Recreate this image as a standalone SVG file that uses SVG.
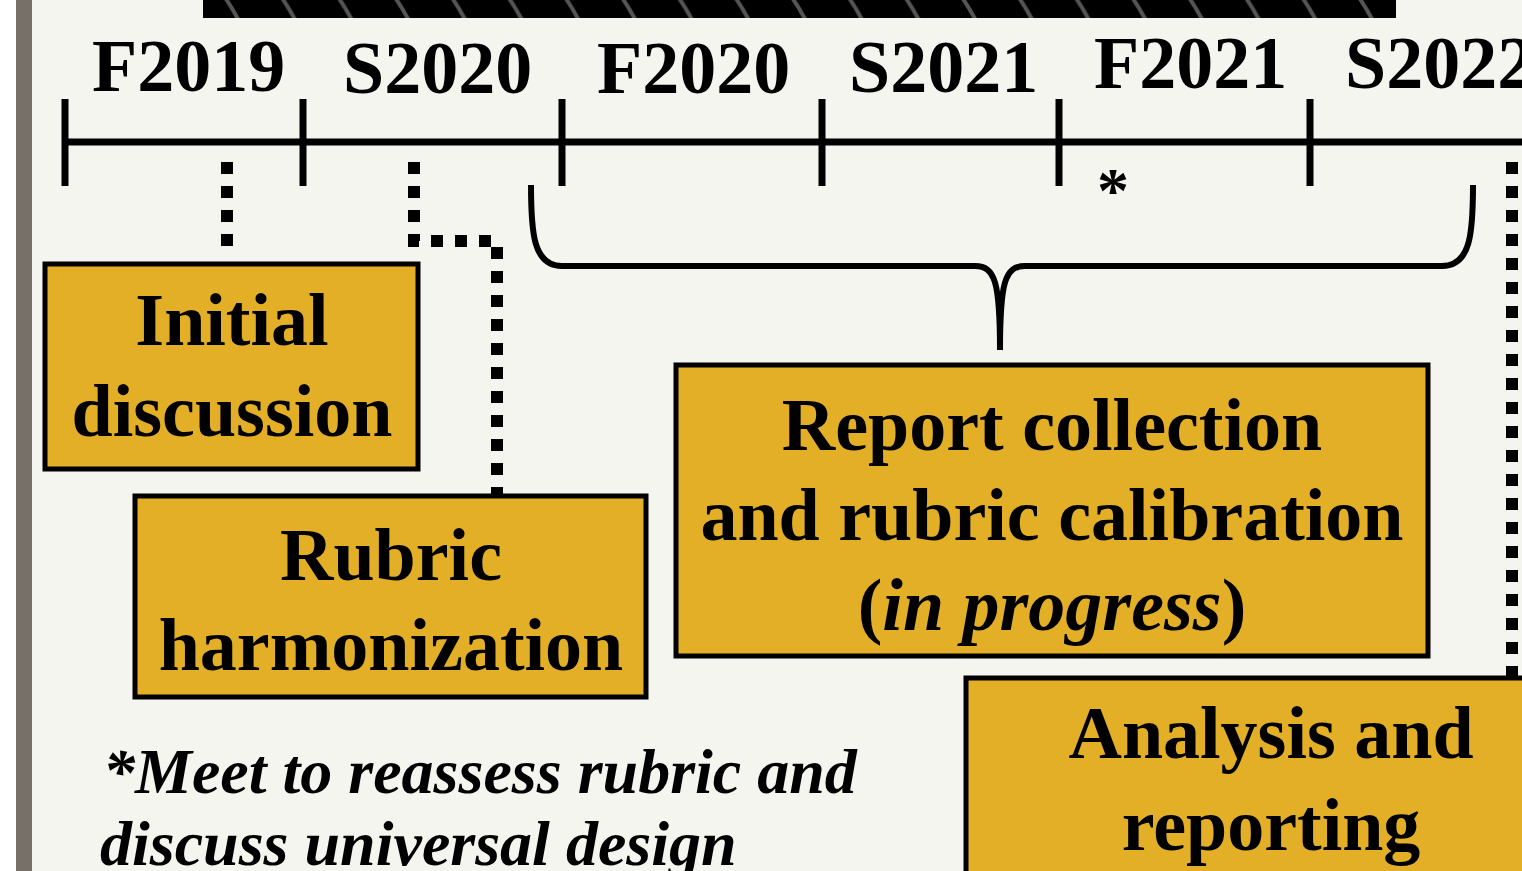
<svg xmlns="http://www.w3.org/2000/svg" width="1522" height="871" viewBox="0 0 1522 871">
<style>
.yr{font-family:"Liberation Serif","Times New Roman",serif;font-weight:bold;font-size:74px;fill:#000}
.bx{fill:#E3AF26;stroke:#000;stroke-width:5}
.bt{font-family:"Liberation Serif","Times New Roman",serif;font-weight:bold;font-size:74px;fill:#000;text-anchor:middle}
.dot{fill:none;stroke:#000;stroke-width:12;stroke-dasharray:12 12}
.ln{fill:none;stroke:#000;stroke-width:7}
.note{font-family:"Liberation Serif","Times New Roman",serif;font-weight:bold;font-style:italic;font-size:64px;fill:#000}
</style>
<defs>
<pattern id="stripes" x="222" y="0" width="56.7" height="18" patternUnits="userSpaceOnUse">
<path d="M4,-1 Q10,8 16,19" stroke="#555555" stroke-width="4" fill="none"/>
</pattern>
</defs>
<rect x="0" y="0" width="1522" height="871" fill="#F5F5F0"/>
<rect x="0" y="0" width="16" height="871" fill="#FFFFFF"/>
<rect x="16" y="0" width="16" height="871" fill="#767069"/>
<g id="topbar">
<rect x="203" y="0" width="1193" height="18" fill="#000"/>
<rect x="203" y="0" width="1193" height="18" fill="url(#stripes)"/>
</g>
<g id="timeline">
<line class="ln" x1="65" y1="142" x2="1522" y2="142"/>
<line class="ln" x1="65" y1="99" x2="65" y2="186"/>
<line class="ln" x1="303" y1="99" x2="303" y2="186"/>
<line class="ln" x1="562" y1="99" x2="562" y2="186"/>
<line class="ln" x1="822" y1="99" x2="822" y2="186"/>
<line class="ln" x1="1059" y1="99" x2="1059" y2="186"/>
<line class="ln" x1="1310" y1="99" x2="1310" y2="186"/>
<text class="yr" x="92" y="91">F2019</text>
<text class="yr" x="343" y="93">S2020</text>
<text class="yr" x="597" y="93">F2020</text>
<text class="yr" x="849" y="92">S2021</text>
<text class="yr" x="1094" y="88">F2021</text>
<text class="yr" x="1345" y="88">S2022</text>
<text class="yr" x="1097" y="212" style="font-size:64px">*</text>
</g>
<g id="connectors">
<line class="dot" x1="227" y1="162" x2="227" y2="246"/>
<polyline class="dot" points="414,162 414,241 497,241 497,494"/>
<line class="dot" x1="1512" y1="162" x2="1512" y2="676"/>
<path class="ln" style="stroke-width:6" d="M531,185 C531,232 533,266 562,266 L975,266 C995,266 1000,282 1000,350 C1000,282 1005,266 1025,266 L1442,266 C1471,266 1473,232 1473,185"/>
</g>
<g id="initial">
<rect class="bx" x="45" y="264" width="373" height="205"/>
<text class="bt" x="232" y="345">Initial</text>
<text class="bt" x="232" y="436">discussion</text>
</g>
<g id="harmonization">
<rect class="bx" x="135" y="496" width="511" height="201"/>
<text class="bt" x="391" y="580">Rubric</text>
<text class="bt" x="391" y="670">harmonization</text>
</g>
<g id="collection">
<rect class="bx" x="676" y="365" width="752" height="291"/>
<text class="bt" x="1052" y="450">Report collection</text>
<text class="bt" x="1052" y="540">and rubric calibration</text>
<text class="bt" x="1052" y="630">(<tspan font-style="italic">in progress</tspan>)</text>
</g>
<g id="analysis">
<rect class="bx" x="966" y="678" width="620" height="220"/>
<text class="bt" x="1271" y="758">Analysis and</text>
<text class="bt" x="1271" y="850">reporting</text>
</g>
<g id="footnote">
<text class="note" x="103" y="793">*Meet to reassess rubric and</text>
<text class="note" x="100" y="865">discuss universal design</text>
</g>
</svg>
